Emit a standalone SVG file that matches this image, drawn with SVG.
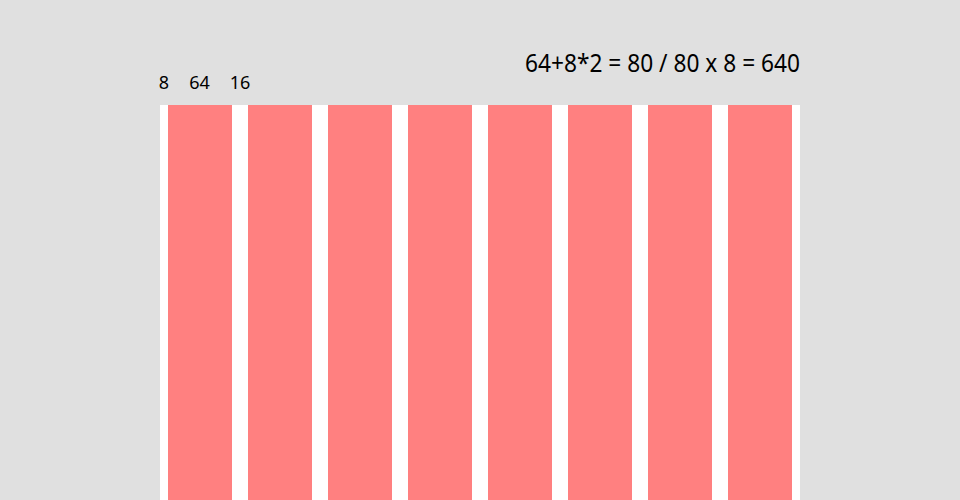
<svg xmlns="http://www.w3.org/2000/svg" width="960" height="500" viewBox="0 0 960 500">
<style>
.t{font-family:"Noto Sans","Open Sans",sans-serif;fill:#000}
.s{font-size:18px;text-anchor:middle}
.col{fill:#ff8080}
</style>
<rect width="960" height="500" fill="#e0e0e0"/>
<rect x="160" y="105" width="640" height="395" fill="#fff"/>
<g id="columns">
<rect class="col" x="168" y="105" width="64" height="395"/>
<rect class="col" x="248" y="105" width="64" height="395"/>
<rect class="col" x="328" y="105" width="64" height="395"/>
<rect class="col" x="408" y="105" width="64" height="395"/>
<rect class="col" x="488" y="105" width="64" height="395"/>
<rect class="col" x="568" y="105" width="64" height="395"/>
<rect class="col" x="648" y="105" width="64" height="395"/>
<rect class="col" x="728" y="105" width="64" height="395"/>
</g>
<text class="t s" x="164" y="89">8</text>
<text class="t s" x="199.500" y="89">64</text>
<text class="t s" x="240" y="89">16</text>
<text class="t" x="800" y="71.500" font-size="25" text-anchor="end" textLength="275" lengthAdjust="spacingAndGlyphs">64+8*2 = 80 / 80 x 8 = 640</text>
</svg>
